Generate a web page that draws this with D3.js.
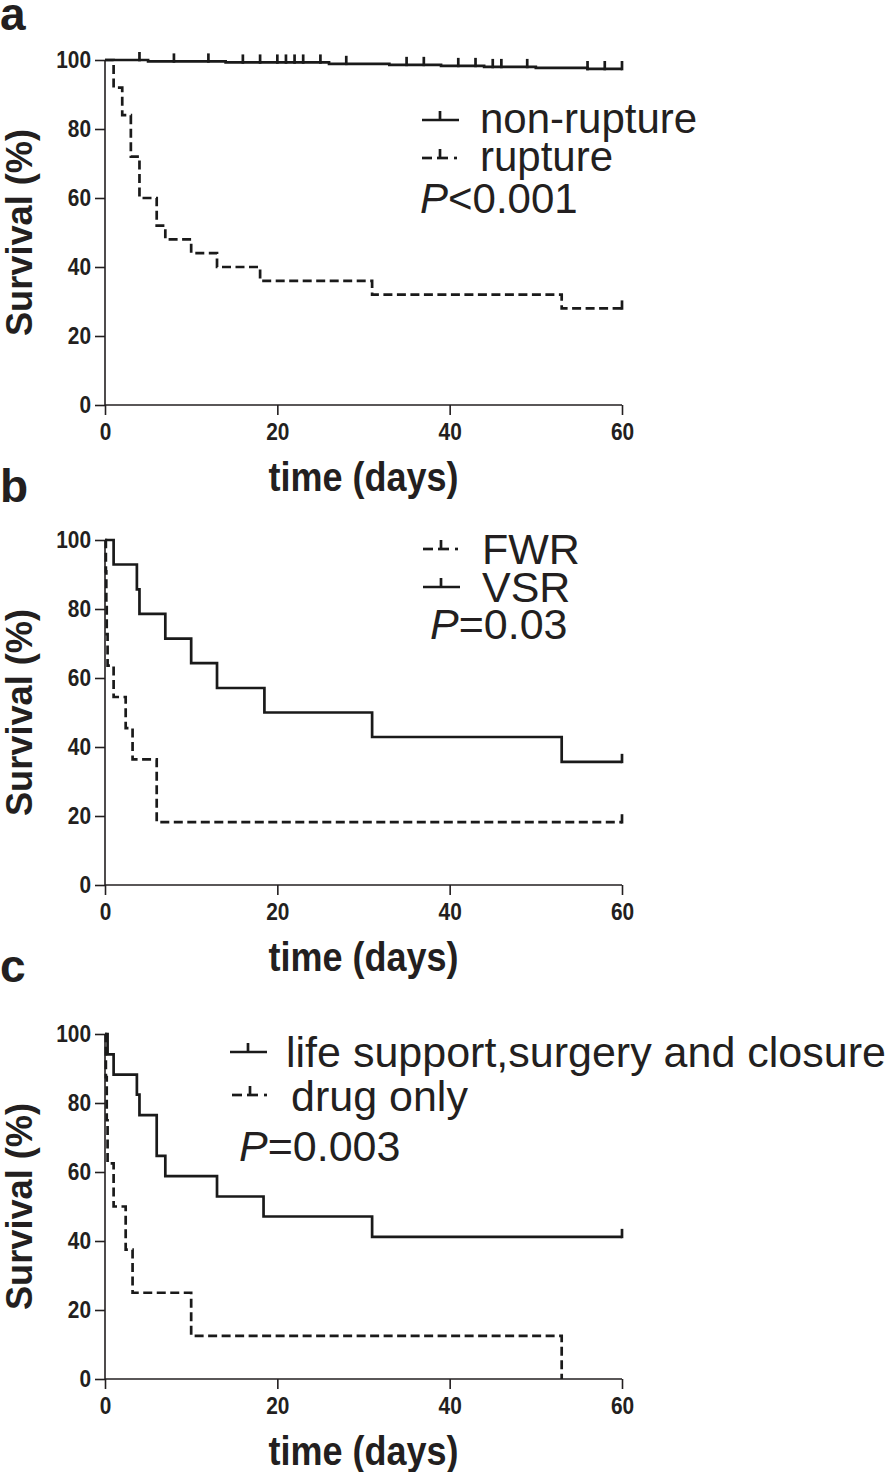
<!DOCTYPE html>
<html>
<head>
<meta charset="utf-8">
<script src="https://cdn.jsdelivr.net/npm/d3@7"></script>
<style>
  html, body { margin: 0; padding: 0; background: #fff; }
  svg { display: block; }
  text { font-family: "Liberation Sans", Arial, sans-serif; fill: #231f20; }
</style>
</head>
<body>
<script>
// ---------------- DATA ----------------
const xTicks = [0, 20, 40, 60];
const yTicks = [0, 20, 40, 60, 80, 100];
const xLabel = "time (days)";
const yLabel = "Survival (%)";

// Panel a
const nonRuptureTimes = [0, 5, 14, 26, 33, 39, 44, 50, 56, 60];
const nonRuptureSurv  = [100, 99.6, 99.3, 98.9, 98.6, 98.3, 98.0, 97.7, 97.4, 97.4];
const nonRuptureCensor = [4, 8, 12, 16, 18, 20, 21, 22, 23, 25, 28, 35, 37, 41, 43, 45, 46, 49, 56, 58, 60];
const ruptureTimes = [0, 1, 2, 3, 4, 6, 7, 10, 13, 18, 31, 53, 60];
const ruptureSurv  = [100, 92, 84, 72, 60, 52, 48, 44, 40, 36, 32, 28, 28];
const ruptureCensor = [60];

// Panel b
const fwrTimes = [0, 0.1, 0.15, 0.2, 0.3, 1, 2.4, 3.2, 6, 60];
const fwrSurv  = [100, 90.9, 81.8, 72.7, 63.6, 54.5, 45.5, 36.4, 18.2, 18.2];
const fwrCensor = [60];
const vsrTimes = [0, 1, 3.7, 4, 7, 10, 13, 18.5, 31, 53, 60];
const vsrSurv  = [100, 92.9, 85.7, 78.6, 71.4, 64.3, 57.1, 50, 42.9, 35.7, 35.7];
const vsrCensor = [60];

// Panel c
const lifeTimes = [0, 0.3, 1, 3.7, 4, 6, 7, 13, 18.4, 31, 60];
const lifeSurv  = [100, 94.1, 88.2, 82.4, 76.5, 64.7, 58.8, 52.9, 47.1, 41.2, 41.2];
const lifeCensor = [60];
const drugTimes = [0, 0.1, 0.2, 0.3, 1, 2.4, 3.2, 10, 53];
const drugSurv  = [100, 87.5, 75, 62.5, 50, 37.5, 25, 12.5, 0];
const drugCensor = [];

const panelLetters = ["a", "b", "c"];
const legendA = ["non-rupture", "rupture"];
const legendB = ["FWR", "VSR"];
const legendC = ["life support,surgery and closure", "drug only"];
const pTexts = [["P", "<0.001"], ["P", "=0.03"], ["P", "=0.003"]];

// ---------------- DRAW ----------------
const W = 894, H = 1472;
const svg = d3.select("body").append("svg").attr("width", W).attr("height", H);

const X0 = 105, X1 = 622;
const x = d3.scaleLinear().domain([0, 60]).range([X0, X1]);
const curveW = 2.7, axisW = 1.6;
const dashPattern = "9,4.5";
const ink = "#1a1a1a";

function zip(t, s) { return t.map((d, i) => ({ t: d, s: s[i] })); }

function drawPanel(cfg) {
  const y = d3.scaleLinear().domain([0, 100]).range([cfg.top + 345, cfg.top]);
  const g = svg.append("g");

  // Axes
  const yAxis = d3.axisLeft(y).tickValues(yTicks).tickSize(10).tickPadding(4).tickFormat(d3.format("d"));
  const xAxis = d3.axisBottom(x).tickValues(xTicks).tickSize(10).tickPadding(8).tickFormat(d3.format("d"));
  const ya = g.append("g").attr("transform", `translate(${X0},0)`).call(yAxis);
  const xa = g.append("g").attr("transform", `translate(0,${y(0)})`).call(xAxis);
  [ya, xa].forEach(a => {
    a.attr("font-family", null).attr("font-size", null);
    a.select(".domain").attr("stroke", "#231f20").attr("stroke-width", axisW);
    a.selectAll(".tick line").attr("stroke", "#231f20").attr("stroke-width", axisW);
    a.selectAll(".tick text").attr("fill", "#231f20")
      .style("font-weight", "bold").style("font-size", "24px")
      .attr("textLength", function () { return this.textContent.length * 11.6; })
      .attr("lengthAdjust", "spacingAndGlyphs");
  });
  xa.select(".domain").attr("d", `M${X0},0H${X1}`);
  ya.select(".domain").attr("d", `M0,${y(100)}V${y(0)}`);

  // axis titles
  g.append("text").attr("x", (X0 + X1) / 2).attr("y", y(0) + 86)
    .attr("text-anchor", "middle").style("font-weight", "bold").style("font-size", "41px")
    .attr("textLength", 190).attr("lengthAdjust", "spacingAndGlyphs")
    .text(xLabel);
  g.append("text").attr("transform", `translate(32,${(y(0) + y(100)) / 2}) rotate(-90)`)
    .attr("text-anchor", "middle").style("font-weight", "bold").style("font-size", "36px")
    .attr("textLength", 207).attr("lengthAdjust", "spacingAndGlyphs")
    .text(yLabel);

  // panel letter
  g.append("text").attr("x", 0).attr("y", cfg.letterY)
    .style("font-weight", "bold").style("font-size", "46px").text(cfg.letter);

  // curves
  const line = d3.line().x(d => x(d.t)).y(d => y(d.s)).curve(d3.curveStepAfter);
  cfg.series.forEach(s => {
    const pts = zip(s.times, s.surv);
    g.append("path").datum(pts).attr("d", line)
      .attr("fill", "none").attr("stroke", ink).attr("stroke-width", curveW)
      .attr("stroke-dasharray", s.dashed ? dashPattern : null);
    const survAt = t => { let v = s.surv[0]; s.times.forEach((tt, i) => { if (tt <= t) v = s.surv[i]; }); return v; };
    g.selectAll(null).data(s.censor).enter().append("line")
      .attr("x1", d => x(d)).attr("x2", d => x(d))
      .attr("y1", d => y(survAt(d)) + curveW / 2).attr("y2", d => y(survAt(d)) - 8)
      .attr("stroke", ink).attr("stroke-width", curveW);
  });

  // legend
  cfg.legend.forEach(L => {
    const lx1 = L.sx, lx2 = L.sx + 37, ly = L.sy;
    const lg = g.append("g");
    if (L.dashed) {
      [[0, 10], [15, 26], [32, 35]].forEach(([a, b]) =>
        lg.append("line").attr("x1", lx1 + a).attr("x2", lx1 + b).attr("y1", ly).attr("y2", ly)
          .attr("stroke", ink).attr("stroke-width", curveW));
    } else {
      lg.append("line").attr("x1", lx1).attr("x2", lx2).attr("y1", ly).attr("y2", ly)
        .attr("stroke", ink).attr("stroke-width", curveW);
    }
    lg.append("line").attr("x1", lx1 + 18).attr("x2", lx1 + 18).attr("y1", ly).attr("y2", ly - 9)
      .attr("stroke", ink).attr("stroke-width", curveW);
    g.append("text").attr("x", L.tx).attr("y", L.ty)
      .style("font-size", cfg.fs + "px").text(L.label);
  });
  const pt = g.append("text").attr("x", cfg.p.x).attr("y", cfg.p.y).style("font-size", cfg.fs + "px");
  pt.append("tspan").style("font-style", "italic").text(cfg.p.text[0]);
  pt.append("tspan").text(cfg.p.text[1]);
}

drawPanel({
  top: 60, letter: panelLetters[0], letterY: 30, fs: 42,
  series: [
    { times: nonRuptureTimes, surv: nonRuptureSurv, censor: nonRuptureCensor, dashed: false },
    { times: ruptureTimes, surv: ruptureSurv, censor: ruptureCensor, dashed: true }
  ],
  legend: [
    { label: legendA[0], dashed: false, sx: 422, sy: 120, tx: 480, ty: 133 },
    { label: legendA[1], dashed: true, sx: 422, sy: 158, tx: 480, ty: 171 }
  ],
  p: { x: 420, y: 213, text: pTexts[0] }
});

drawPanel({
  top: 540, letter: panelLetters[1], letterY: 502, fs: 43,
  series: [
    { times: fwrTimes, surv: fwrSurv, censor: fwrCensor, dashed: true },
    { times: vsrTimes, surv: vsrSurv, censor: vsrCensor, dashed: false }
  ],
  legend: [
    { label: legendB[0], dashed: true, sx: 423, sy: 549, tx: 482, ty: 564 },
    { label: legendB[1], dashed: false, sx: 423, sy: 587, tx: 482, ty: 602 }
  ],
  p: { x: 430, y: 639, text: pTexts[1] }
});

drawPanel({
  top: 1034, letter: panelLetters[2], letterY: 982, fs: 43,
  series: [
    { times: lifeTimes, surv: lifeSurv, censor: lifeCensor, dashed: false },
    { times: drugTimes, surv: drugSurv, censor: drugCensor, dashed: true }
  ],
  legend: [
    { label: legendC[0], dashed: false, sx: 230, sy: 1052, tx: 286, ty: 1067 },
    { label: legendC[1], dashed: true, sx: 232, sy: 1095, tx: 291, ty: 1111 }
  ],
  p: { x: 239, y: 1161, text: pTexts[2] }
});
</script>
</body>
</html>
